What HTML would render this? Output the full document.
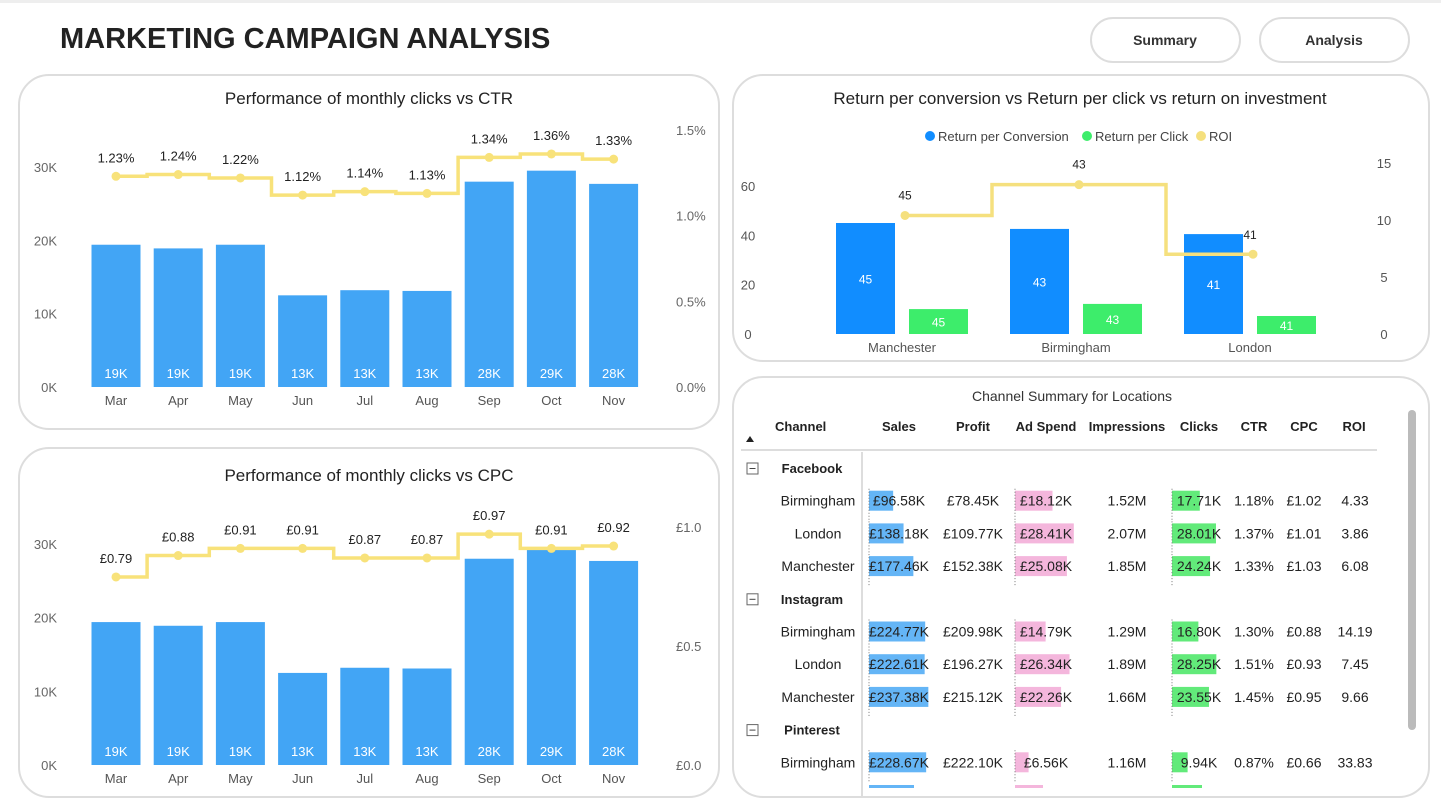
<!DOCTYPE html>
<html><head><meta charset="utf-8">
<style>
body{margin:0;background:#fff;font-family:"Liberation Sans",sans-serif;}
svg{display:block}
text{font-family:"Liberation Sans",sans-serif}
</style></head>
<body>
<svg id="s" width="1441" height="809" xmlns="http://www.w3.org/2000/svg">
<rect x="0" y="0" width="1441" height="809" fill="#fff"/>
<rect x="0" y="0" width="1441" height="3" fill="#eee"/>
<text x="60" y="48" font-size="29" font-weight="bold" fill="#222">MARKETING CAMPAIGN ANALYSIS</text>
<g><rect x="1091" y="18" width="149" height="44" rx="22" fill="#fff" stroke="#ddd" stroke-width="2"/><text x="1165" y="45" font-size="14" font-weight="bold" text-anchor="middle" fill="#333">Summary</text></g>
<g><rect x="1260" y="18" width="149" height="44" rx="22" fill="#fff" stroke="#ddd" stroke-width="2"/><text x="1334" y="45" font-size="14" font-weight="bold" text-anchor="middle" fill="#333">Analysis</text></g>
<rect x="19" y="75" width="700" height="354" rx="30" fill="#fff" stroke="#ddd" stroke-width="2"/>
<rect x="19" y="448" width="700" height="349" rx="30" fill="#fff" stroke="#ddd" stroke-width="2"/>
<rect x="733" y="75" width="696" height="286" rx="30" fill="#fff" stroke="#ddd" stroke-width="2"/>
<rect x="733" y="377" width="696" height="420" rx="30" fill="#fff" stroke="#ddd" stroke-width="2"/>
<text x="369" y="104" font-size="17" text-anchor="middle" fill="#222">Performance of monthly clicks vs CTR</text>
<text x="369" y="481" font-size="17" text-anchor="middle" fill="#222">Performance of monthly clicks vs CPC</text>
<text x="1080" y="104" font-size="17" text-anchor="middle" fill="#222">Return per conversion vs Return per click vs return on investment</text>
<text x="1072" y="401" font-size="14" text-anchor="middle" fill="#333">Channel Summary for Locations</text>
</svg>
<script>
const months=["Mar","Apr","May","Jun","Jul","Aug","Sep","Oct","Nov"];
const clicks=[19.4,18.9,19.4,12.5,13.2,13.1,28.0,29.5,27.7];
const clickLabels=["19K","19K","19K","13K","13K","13K","28K","29K","28K"];
const ctr=[1.23,1.24,1.22,1.12,1.14,1.13,1.34,1.36,1.33];
const ctrLabels=["1.23%","1.24%","1.22%","1.12%","1.14%","1.13%","1.34%","1.36%","1.33%"];
const cpc=[0.79,0.88,0.91,0.91,0.87,0.87,0.97,0.91,0.92];
const cpcLabels=["£0.79","£0.88","£0.91","£0.91","£0.87","£0.87","£0.97","£0.91","£0.92"];
const clickTicks=[0,10,20,30];
const ctrTicks=[0,0.5,1.0,1.5];
const cpcTicks=[0,0.5,1.0];
const cities=["Manchester","Birmingham","London"];
const retConv=[45,42.6,40.5];
const retClick=[10.1,12.2,7.3];
const roiVals=[10.4,13.1,7.0];
const retLabels=["45","43","41"];
const leftTicks=[0,20,40,60];
const rightTicks=[0,5,10,15];
const tableRows=[
["Facebook"],
["Birmingham",96.58,"£78.45K",18.12,"1.52M",17.71,"1.18%","£1.02","4.33"],
["London",138.18,"£109.77K",28.41,"2.07M",28.01,"1.37%","£1.01","3.86"],
["Manchester",177.46,"£152.38K",25.08,"1.85M",24.24,"1.33%","£1.03","6.08"],
["Instagram"],
["Birmingham",224.77,"£209.98K",14.79,"1.29M",16.80,"1.30%","£0.88","14.19"],
["London",222.61,"£196.27K",26.34,"1.89M",28.25,"1.51%","£0.93","7.45"],
["Manchester",237.38,"£215.12K",22.26,"1.66M",23.55,"1.45%","£0.95","9.66"],
["Pinterest"],
["Birmingham",228.67,"£222.10K",6.56,"1.16M",9.94,"0.87%","£0.66","33.83"]
];
const NS="http://www.w3.org/2000/svg";
const svg=document.getElementById('s');
function el(tag,attrs,txt){const e=document.createElementNS(NS,tag);for(const k in attrs)e.setAttribute(k,attrs[k]);if(txt!==undefined)e.textContent=txt;svg.appendChild(e);return e;}

function combo(y0,yTop30,rTop,rMax,lineVals,lineLabels,rTicks,rFmt,prefix){
  const xc=i=>116+i*62.2;
  const yL=v=>y0-(v/30)*(y0-yTop30);
  const yR=v=>y0-(v/rMax)*(y0-rTop);
  clickTicks.forEach(t=>{const e=el('text',{x:57,y:yL(t*1)+5,'font-size':13,fill:'#666','text-anchor':'end'},t+"K");
    });
  rTicks.forEach(t=>{const e=el('text',{x:676,y:yR(t)+5,'font-size':13,fill:'#666'},rFmt(t));
    });
  months.forEach((m,i)=>{
    const b=el('rect',{x:xc(i)-24.5,y:yL(clicks[i]),width:49,height:y0-yL(clicks[i]),fill:'#42a5f5'});
    
    const l=el('text',{x:xc(i),y:y0-9,'font-size':13,fill:'#fff','text-anchor':'middle'},clickLabels[i]);
    
    const t=el('text',{x:xc(i),y:y0+18,'font-size':13,fill:'#555','text-anchor':'middle'},m);
    
  });
  let d="";
  lineVals.forEach((v,i)=>{const x=xc(i),y=yR(v);
    if(i===0)d+=`M${x},${y}`;else{const mx=xc(i)-31.1;d+=`H${mx}V${y}H${x}`;}
    if(i<lineVals.length-1)d+=`H${x+31.1-14}`;});
  // simpler step: horizontal segments around each point
  d="";
  lineVals.forEach((v,i)=>{const x=xc(i),y=yR(v);
    const a=i===0?x:x-31.1, b=i===lineVals.length-1?x:x+31.1;
    d+=(i===0?`M${a},${y}`:`V${y}`)+`H${b}`;});
  const p=el('path',{d:d,fill:'none',stroke:'#f8e27a','stroke-width':3.5});
  
  lineVals.forEach((v,i)=>{
    const c=el('circle',{cx:xc(i),cy:yR(v),r:4.5,fill:'#f8e27a'});
    
    const t=el('text',{x:xc(i),y:yR(v)-14,'font-size':13,fill:'#222','text-anchor':'middle'},lineLabels[i]);
    
  });
}
combo(387,167,130,1.5,ctr,ctrLabels,ctrTicks,t=>t.toFixed(1)+"%","ctr");
combo(765,544,527,1.0,cpc,cpcLabels,cpcTicks,t=>"£"+t.toFixed(1),"cpc");

// Return chart
(function(){
  const y0=334, xc=i=>902+i*174;
  const yL=v=>y0-v*(148/60);
  const yR=v=>y0-v*(171/15);
  leftTicks.forEach(t=>{const e=el('text',{x:748,y:yL(t)+5,'font-size':13,fill:'#555','text-anchor':'middle'},t);
    });
  rightTicks.forEach(t=>{const e=el('text',{x:1384,y:yR(t)+5,'font-size':13,fill:'#555','text-anchor':'middle'},t);
    });
  // legend
  [["Return per Conversion","#118dff",930],["Return per Click","#3ded6b",1087],["ROI","#f5e07e",1201]].forEach(l=>{
    const c=el('circle',{cx:l[2],cy:136,r:5,fill:l[1]});
    
    const t=el('text',{x:l[2]+8,y:141,'font-size':13,fill:'#444'},l[0]);
    
  });
  cities.forEach((c,i)=>{
    const b=el('rect',{x:xc(i)-66,y:yL(retConv[i]),width:59,height:y0-yL(retConv[i]),fill:'#118dff'});
    
    const bl=el('text',{x:xc(i)-36.5,y:(yL(retConv[i])+y0)/2+5,'font-size':12,fill:'#fff','text-anchor':'middle'},retLabels[i]);
    
    const g=el('rect',{x:xc(i)+7,y:yL(retClick[i]),width:59,height:y0-yL(retClick[i]),fill:'#3ded6b'});
    
    const gl=el('text',{x:xc(i)+36.5,y:(yL(retClick[i])+y0)/2+5,'font-size':12,fill:'#fff','text-anchor':'middle'},retLabels[i]);
    
    const t=el('text',{x:xc(i),y:352,'font-size':13,fill:'#555','text-anchor':'middle'},c);
    
  });
  let d="";
  roiVals.forEach((v,i)=>{const x=xc(i)+3,y=yR(v);
    const a=i===0?x:x-87,b=i===roiVals.length-1?x:x+87;
    d+=(i===0?`M${a},${y}`:`V${y}`)+`H${b}`;});
  const p=el('path',{d:d,fill:'none',stroke:'#f5e07e','stroke-width':3.5});
  
  roiVals.forEach((v,i)=>{
    const c=el('circle',{cx:xc(i)+3,cy:yR(v),r:4.5,fill:'#f5e07e'});
    
    const t=el('text',{x:xc(i)+(i===2?0:3),y:yR(v)-(i===2?15:16),'font-size':12,fill:'#222','text-anchor':'middle'},retLabels[i]);
    
  });
})();

// Table
(function(){
  const heads=[["Channel",775,"start"],["Sales",899,"middle"],["Profit",973,"middle"],["Ad Spend",1046,"middle"],["Impressions",1127,"middle"],["Clicks",1199,"middle"],["CTR",1254,"middle"],["CPC",1304,"middle"],["ROI",1354,"middle"]];
  heads.forEach(h=>{const t=el('text',{x:h[1],y:431,'font-size':13,'font-weight':'bold',fill:'#222','text-anchor':h[2]},h[0]);
    });
  const s=el('path',{d:"M746,442 L750,436 L754,442 Z",fill:'#222'});
  
  const ln=el('rect',{x:741,y:449,width:636,height:2,fill:'#ddd'});
  
  const vl=el('rect',{x:861,y:452,width:2,height:345,fill:'#ddd'});
  
  const sb=el('rect',{x:1408,y:410,width:8,height:320,rx:4,fill:'#bbb'});
  
  const rowY=i=>468+i*32.7;
  tableRows.forEach((r,i)=>{
    const y=rowY(i);
    if(r.length===1){
      const bx=el('rect',{x:747,y:y-5,width:11,height:11,fill:'#fff',stroke:'#666'});
      
      const mi=el('rect',{x:749.5,y:y,width:6,height:1,fill:'#444'});
      
      const t=el('text',{x:812,y:y+5,'font-size':13,'font-weight':'bold',fill:'#222','text-anchor':'middle'},r[0]);
      
      return;
    }
    const bars=[[r[1],869,0.25,'#64b5f6'],[r[3],1015,2.07,'#f4b6dc'],[r[5],1172,1.57,'#62ea7a']];
    bars.forEach(b=>{const rr=el('rect',{x:b[1],y:y-10,width:b[0]*b[2],height:20,fill:b[3]});
      
      const dl=el('line',{x1:b[1],y1:y-12,x2:b[1],y2:y+20,stroke:'#777','stroke-dasharray':'1,2'});
      });
    const vals=[[r[0],818],["£"+r[1].toFixed(2)+"K",899],[r[2],973],["£"+r[3].toFixed(2)+"K",1046],[r[4],1127],[r[5].toFixed(2)+"K",1199],[r[6],1254],[r[7],1304],[r[8],1355]];
    vals.forEach(v=>{const t=el('text',{x:v[1],y:y+5,'font-size':14,fill:'#222','text-anchor':'middle'},v[0]);
      });
  });
  [[869,45,'#64b5f6'],[1015,28,'#f4b6dc'],[1172,30,'#62ea7a']].forEach(b=>{
    const rr=el('rect',{x:b[0],y:785,width:b[1],height:3,fill:b[2]});
    });
})();
</script>
</body></html>
